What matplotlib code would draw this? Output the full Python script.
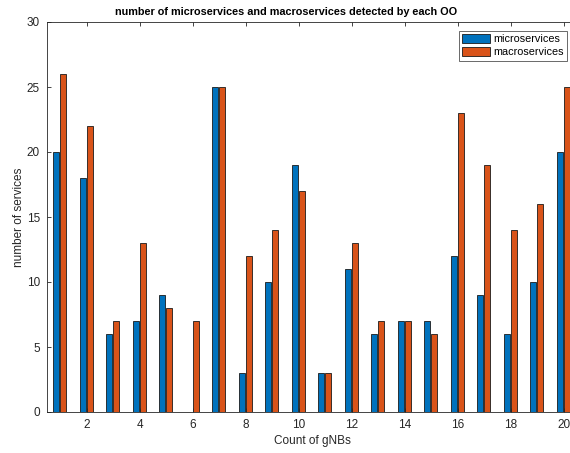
import matplotlib.pyplot as plt
import numpy as np

plt.rcParams['font.family'] = ['Liberation Sans', 'DejaVu Sans']

gnbs = np.arange(1, 21)
micro = [20, 18, 6, 7, 9, 0, 25, 3, 10, 19, 3, 11, 6, 7, 7, 12, 9, 6, 10, 20]
macro = [26, 22, 7, 13, 8, 7, 25, 12, 14, 17, 3, 13, 7, 7, 6, 23, 19, 14, 16, 25]

fig = plt.figure(figsize=(5.7, 4.53), dpi=100)
# axes runs past the right edge of the figure, as in the original export
ax = fig.add_axes([47 / 570, 41 / 453, 530 / 570, 390 / 453])

w = 0.23
ax.bar(gnbs - 0.145, micro, w, color='#0072BD', edgecolor='#1a1a1a', linewidth=0.6,
       label='microservices')
ax.bar(gnbs + 0.12, macro, w, color='#D95319', edgecolor='#1a1a1a', linewidth=0.6,
       label='macroservices')

ax.set_xlim(0.5, 20.5)
ax.set_ylim(0, 30)
ax.set_xticks(np.arange(2, 21, 2))
ax.set_yticks(np.arange(0, 31, 5))
ax.tick_params(direction='in', length=3, width=0.6, top=True, right=True,
               labelsize=8.5, colors='#262626', pad=5)
for s in ax.spines.values():
    s.set_color('#262626')
    s.set_linewidth(0.6)

# title sits where the original put it (centred on the uncropped axes)
fig.text(286 / 570, 1 - 12 / 453,
         'number of microservices and macroservices detected by each OO',
         ha='center', va='center', fontsize=7.8, fontweight='bold')
ax.set_xlabel('Count of gNBs', fontsize=8.5, color='#262626', labelpad=3)
ax.set_ylabel('number of services', fontsize=8.5, color='#262626', labelpad=1)

leg = fig.legend(loc='upper right', bbox_to_anchor=(567 / 570, 1 - 31 / 453),
                 fontsize=7.8, frameon=True, fancybox=False, handlelength=2.6,
                 handleheight=0.9, borderpad=0.3, labelspacing=0.25,
                 handletextpad=0.3, borderaxespad=0)
leg.get_frame().set_edgecolor('#262626')
leg.get_frame().set_linewidth(0.6)

fig.savefig('out.png', dpi=100)
